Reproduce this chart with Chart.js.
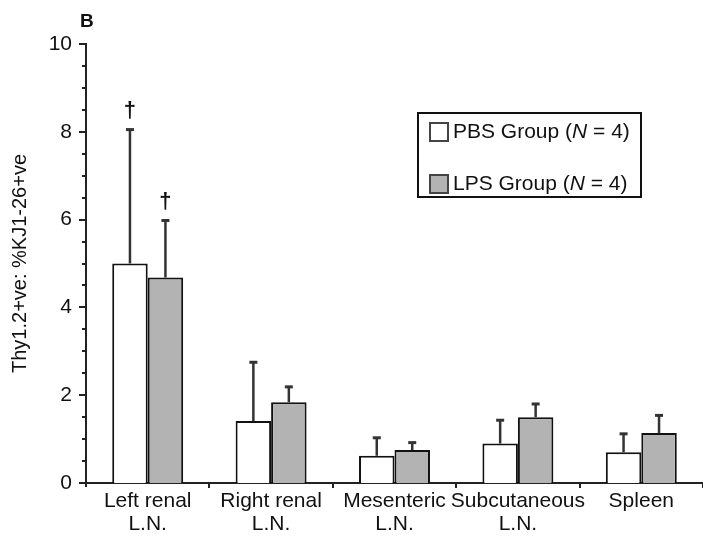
<!DOCTYPE html>
<html>
<head>
<meta charset="utf-8">
<script src="https://cdn.jsdelivr.net/npm/chart.js@4.4.1/dist/chart.umd.min.js"></script>
<style>
    body { margin: 0; background: #fff; }
    #wrap { width: 703px; height: 537px; }
</style>
</head>
<body>
<div id="wrap"><canvas id="myChart" width="703" height="537"></canvas></div>
<script>
const categories = [
    ["Left renal", "L.N."],
    ["Right renal", "L.N."],
    ["Mesenteric", "L.N."],
    ["Subcutaneous", "L.N."],
    "Spleen",
];
const pbsMean = [5.0, 1.41, 0.62, 0.9, 0.7];
const pbsErr = [3.05, 1.34, 0.41, 0.53, 0.42];
const lpsMean = [4.68, 1.84, 0.75, 1.5, 1.14];
const lpsErr = [1.3, 0.35, 0.17, 0.3, 0.4];
const pbsMarks = ["†", "", "", "", ""];
const lpsMarks = ["†", "", "", "", ""];
const errors = [pbsErr, lpsErr];
const marks = [pbsMarks, lpsMarks];

const FONT = "'Liberation Sans', Arial, Helvetica, sans-serif";

const overlay = {
    id: "overlay",
    afterDatasetsDraw(chart) {
        const ctx = chart.ctx;
        const y = chart.scales.y;
        ctx.save();
        ctx.strokeStyle = "#333";
        ctx.fillStyle = "#111";
        chart.data.datasets.forEach((ds, d) => {
            const meta = chart.getDatasetMeta(d);
            meta.data.forEach((bar, i) => {
                const top = y.getPixelForValue(ds.data[i] + errors[d][i]);
                ctx.lineWidth = 2.5;
                ctx.beginPath();
                ctx.moveTo(bar.x, bar.y);
                ctx.lineTo(bar.x, top);
                ctx.stroke();
                ctx.lineWidth = 3;
                ctx.beginPath();
                ctx.moveTo(bar.x - 4, top);
                ctx.lineTo(bar.x + 4, top);
                ctx.stroke();
                if (marks[d][i]) {
                    ctx.font = "bold 22px " + FONT;
                    ctx.textAlign = "center";
                    ctx.textBaseline = "middle";
                    ctx.fillText(marks[d][i], bar.x, top - 19);
                }
            });
        });
        ctx.restore();
    },
    afterDraw(chart) {
        const ctx = chart.ctx;
        const { left, bottom } = chart.chartArea;
        const y = chart.scales.y;
        const x = chart.scales.x;
        ctx.save();
        ctx.strokeStyle = "#222";
        ctx.lineWidth = 2;
        // y ticks, major every 2, minor every 0.5
        for (let v = 0; v <= 10; v += 0.5) {
            const py = Math.round(y.getPixelForValue(v));
            const len = v % 2 === 0 ? 7 : 4;
            ctx.beginPath();
            ctx.moveTo(left - len, py);
            ctx.lineTo(left, py);
            ctx.stroke();
        }
        // x ticks between categories
        const n = categories.length;
        const w = (x.right - x.left) / n;
        for (let i = 1; i <= n; i++) {
            const px = Math.round(x.left + i * w);
            ctx.beginPath();
            ctx.moveTo(px, bottom);
            ctx.lineTo(px, bottom + 5);
            ctx.stroke();
        }
        ctx.beginPath();
        ctx.moveTo(left, bottom);
        ctx.lineTo(left, bottom + 4);
        ctx.stroke();

        // panel label
        ctx.fillStyle = "#111";
        ctx.font = "bold 19px " + FONT;
        ctx.textAlign = "left";
        ctx.textBaseline = "middle";
        ctx.fillText("B", 80, 22);

        // legend box
        ctx.lineWidth = 2;
        ctx.strokeStyle = "#111";
        ctx.strokeRect(418, 113, 223, 84);
        const rows = [
            { name: "PBS Group (", fill: "#ffffff", cy: 132 },
            { name: "LPS Group (", fill: "#b3b3b3", cy: 184 },
        ];
        rows.forEach((r) => {
            ctx.fillStyle = r.fill;
            ctx.fillRect(430, r.cy - 9, 18, 18);
            ctx.strokeStyle = "#444";
            ctx.lineWidth = 2;
            ctx.strokeRect(430, r.cy - 9, 18, 18);
            ctx.fillStyle = "#111";
            let tx = 453;
            ctx.font = "21px " + FONT;
            ctx.fillText(r.name, tx, r.cy);
            tx += ctx.measureText(r.name).width;
            ctx.font = "italic 21px " + FONT;
            ctx.fillText("N", tx, r.cy);
            tx += ctx.measureText("N").width;
            ctx.font = "21px " + FONT;
            ctx.fillText(" = 4)", tx, r.cy);
        });
        ctx.restore();
    },
};

function main() {
    const ctx = document.getElementById("myChart");

    new Chart(ctx, {
        type: "bar",
        data: {
            labels: categories,
            datasets: [
                {
                    label: "PBS Group (N = 4)",
                    data: pbsMean,
                    backgroundColor: "#ffffff",
                    borderColor: "#111",
                    borderWidth: 2,
                },
                {
                    label: "LPS Group (N = 4)",
                    data: lpsMean,
                    backgroundColor: "#b3b3b3",
                    borderColor: "#111",
                    borderWidth: 2,
                },
            ],
        },
        options: {
            responsive: false,
            animation: false,
            devicePixelRatio: 1,
            layout: { padding: { top: 44, right: 0, left: 0, bottom: 0 } },
            datasets: {
                bar: { categoryPercentage: 0.575, barPercentage: 1 },
            },
            plugins: {
                legend: { display: false },
                tooltip: { enabled: false },
            },
            scales: {
                x: {
                    grid: { display: false, drawTicks: false },
                    border: { display: true, color: "#222", width: 2 },
                    ticks: {
                        color: "#111",
                        font: { family: FONT, size: 21, lineHeight: 1.1 },
                        padding: 7,
                        maxRotation: 0,
                        autoSkip: false,
                    },
                    afterFit: (scale) => { scale.height = 54; },
                },
                y: {
                    min: 0,
                    max: 10,
                    grid: { display: false, drawTicks: false },
                    border: { display: true, color: "#222", width: 2 },
                    ticks: {
                        stepSize: 2,
                        color: "#111",
                        font: { family: FONT, size: 21 },
                        padding: 14,
                    },
                    title: {
                        display: true,
                        text: "Thy1.2+ve: %KJ1-26+ve",
                        color: "#111",
                        font: { family: FONT, size: 20 },
                        padding: { top: 8, bottom: 0 },
                    },
                    afterFit: (scale) => { scale.width = 86; },
                },
            },
        },
        plugins: [overlay],
    });
}

main();
</script>
</body>
</html>
